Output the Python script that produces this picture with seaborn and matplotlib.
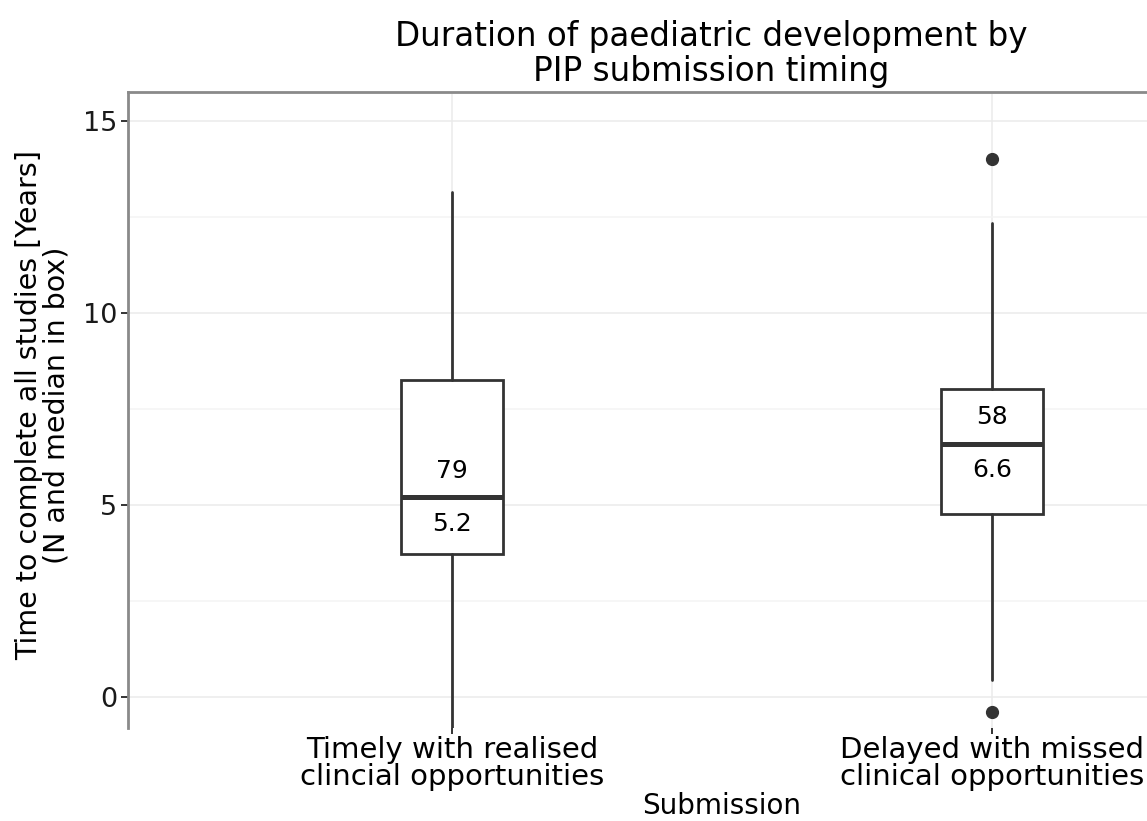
import matplotlib
matplotlib.use("Agg")
import matplotlib.pyplot as plt
from matplotlib.ticker import MultipleLocator
import seaborn as sns

# Summary statistics per submission group
categories = ["Timely with realised\nclincial opportunities",
              "Delayed with missed\nclinical opportunities"]
n_studies = [79, 58]
medians = [5.2, 6.6]
q1 = [3.72, 4.77]
q3 = [8.25, 8.02]
whisker_lo = [-1.2, 0.44]
whisker_hi = [13.15, 12.34]
outliers = [[], [14.0, -0.39]]
y_ticks = [0, 5, 10, 15]

sns.set_theme(style="white")
plt.rcParams["font.family"] = ["DejaVu Sans"]

ink = "#333333"
fig = plt.figure(figsize=(11.47, 8.21), dpi=100)
# panel runs past the right edge of the canvas
ax = fig.add_axes([128 / 1147, 1 - 728 / 821, 1188 / 1147, 636 / 821])

stats = []
for i in range(len(categories)):
    stats.append(dict(med=medians[i], q1=q1[i], q3=q3[i],
                      whislo=whisker_lo[i], whishi=whisker_hi[i],
                      fliers=outliers[i], label=categories[i]))

ax.bxp(stats, positions=list(range(len(categories))), widths=0.19,
       showcaps=False, patch_artist=True,
       boxprops=dict(facecolor="white", edgecolor=ink, linewidth=2.0),
       medianprops=dict(color=ink, linewidth=3.6, solid_capstyle="butt"),
       whiskerprops=dict(color=ink, linewidth=2.0),
       flierprops=dict(marker="o", markerfacecolor=ink, markeredgecolor=ink,
                       markersize=8.5, linestyle="none"),
       zorder=3)

# N above and median below the median line
for i in range(len(categories)):
    ax.annotate(f"{n_studies[i]}", (i, medians[i]), xytext=(0, 19),
                textcoords="offset points", ha="center", va="center",
                fontsize=18, color="black", zorder=4)
    ax.annotate(f"{medians[i]:.1f}", (i, medians[i]), xytext=(0, -19),
                textcoords="offset points", ha="center", va="center",
                fontsize=18, color="black", zorder=4)

ax.set_xlim(-0.6, 1.6)
ax.set_ylim(-0.8, 15.75)
ax.set_xticks(range(len(categories)))
ax.set_xticklabels(categories, fontsize=21, color="black", linespacing=0.95)
ax.set_yticks(y_ticks)
ax.set_yticklabels([str(t) for t in y_ticks], fontsize=19.5, color="#1a1a1a")
ax.yaxis.set_minor_locator(MultipleLocator(2.5))

ax.set_facecolor("white")
ax.grid(which="major", color="#ebebeb", linewidth=1.1, zorder=0)
ax.grid(which="minor", axis="y", color="#f4f4f4", linewidth=1.1, zorder=0)
ax.set_axisbelow(True)

for side in ["right", "bottom"]:
    ax.spines[side].set_visible(False)
for side in ["top", "left"]:
    ax.spines[side].set_visible(True)
    ax.spines[side].set_color("#8a8a8a")
    ax.spines[side].set_linewidth(2.0)

ax.tick_params(axis="y", which="major", length=5, width=1.4, color=ink,
               pad=3, left=True)
ax.tick_params(axis="y", which="minor", length=0)
ax.tick_params(axis="x", which="major", length=4, width=1.4, color=ink,
               pad=2, bottom=True)

fig.text(711 / 1147, 1 - 54 / 821,
         "Duration of paediatric development by\nPIP submission timing",
         ha="center", va="center", fontsize=23.5, linespacing=1.05,
         color="black")
fig.text(722 / 1147, 1 - 806 / 821, "Submission", ha="center", va="center",
         fontsize=20, color="black")
fig.text(43 / 1147, 1 - 405 / 821,
         "Time to complete all studies [Years]\n(N and median in box)",
         rotation=90, ha="center", va="center", multialignment="center",
         fontsize=20.5, linespacing=0.95, color="black")

fig.savefig("out.png", dpi=100)
